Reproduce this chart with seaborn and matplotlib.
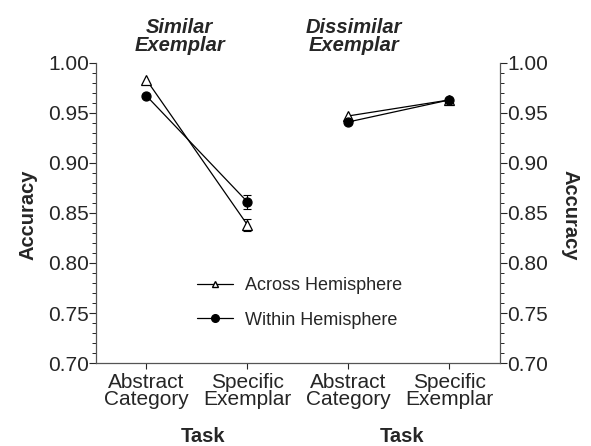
import matplotlib
matplotlib.use("Agg")
import matplotlib.pyplot as plt
import matplotlib.transforms as mtransforms
import seaborn as sns
import pandas as pd
from matplotlib.ticker import MultipleLocator, FormatStrFormatter
from matplotlib.lines import Line2D

# values
conditions = ["Similar Exemplar", "Dissimilar Exemplar"]
tasks = ["Abstract\nCategory", "Specific\nExemplar"]
across_acc = [0.983, 0.838, 0.947, 0.963]
within_acc = [0.967, 0.861, 0.941, 0.963]
across_se = [0.0, 0.006, 0.0, 0.0]
within_se = [0.0, 0.007, 0.0, 0.0]

rows = []
for i in range(4):
    cond = conditions[i // 2]
    rows.append(dict(pos=i, cond=cond, hemi="Across Hemisphere", acc=across_acc[i], se=across_se[i]))
    rows.append(dict(pos=i, cond=cond, hemi="Within Hemisphere", acc=within_acc[i], se=within_se[i]))
df = pd.DataFrame(rows)

sns.set_style("ticks")
plt.rcParams["font.family"] = ["Liberation Sans", "DejaVu Sans"]

fig = plt.figure(figsize=(5.91, 4.46), dpi=100)
ax = fig.add_axes([0.1624, 0.186, 0.6836, 0.673])

for cond in conditions:
    sub = df[df.cond == cond]
    eb = sub[sub.se > 0]
    ax.errorbar(eb.pos, eb.acc, yerr=eb.se, fmt="none", ecolor="black",
                elinewidth=0.8, capsize=3, capthick=0.8, zorder=1)
    sns.lineplot(data=sub, x="pos", y="acc", hue="hemi", style="hemi",
                 palette={"Across Hemisphere": "black", "Within Hemisphere": "black"},
                 markers={"Across Hemisphere": "^", "Within Hemisphere": "o"},
                 dashes=False, linewidth=0.9, markersize=6.5, legend=False, ax=ax,
                 markeredgecolor="black", markeredgewidth=0.9, zorder=2)

# open triangles
for line in ax.lines:
    if line.get_marker() == "^":
        line.set_markerfacecolor("white")

fs = 15
ax.set_xlim(-0.5, 3.5)
ax.set_ylim(0.70, 1.00)
ax.set_xticks(range(4))
ax.set_xticklabels(tasks * 2, fontsize=fs, linespacing=0.9)
ax.yaxis.set_major_locator(MultipleLocator(0.05))
ax.yaxis.set_minor_locator(MultipleLocator(0.01))
ax.yaxis.set_major_formatter(FormatStrFormatter("%.2f"))
ax.tick_params(axis="y", which="major", labelsize=fs, length=5, width=0.8, direction="out", pad=0)
ax.tick_params(axis="y", which="minor", length=3, width=0.7, direction="out")
ax.tick_params(axis="x", length=4, width=0.8, direction="out", pad=3)
ax.set_xlabel("")
ax.set_ylabel("")
fig.text(28 / 591, 1 - 215 / 446, "Accuracy", rotation=90, ha="center", va="center",
         fontsize=14.5, fontweight="bold")
for side in ["top", "right"]:
    ax.spines[side].set_visible(False)
for side in ["left", "bottom"]:
    ax.spines[side].set_linewidth(0.9)
    ax.spines[side].set_color("#555555")

ax2 = ax.twinx()
ax2.set_ylim(0.70, 1.00)
ax2.yaxis.set_major_locator(MultipleLocator(0.05))
ax2.yaxis.set_minor_locator(MultipleLocator(0.01))
ax2.yaxis.set_major_formatter(FormatStrFormatter("%.2f"))
ax2.tick_params(axis="y", which="major", labelsize=fs, length=5, width=0.8, direction="out", pad=0)
ax2.tick_params(axis="y", which="minor", length=3, width=0.7, direction="out")
fig.text(570 / 591, 1 - 215 / 446, "Accuracy", rotation=270, ha="center", va="center",
         fontsize=14.5, fontweight="bold")
for side in ["top", "left", "bottom"]:
    ax2.spines[side].set_visible(False)
ax2.spines["right"].set_linewidth(0.9)
ax2.spines["right"].set_color("#555555")

# condition titles and task labels
title_x = [0.33, 2.05]
task_x = [0.56, 2.53]
task_tr = mtransforms.blended_transform_factory(ax.transData, fig.transFigure)
for k, cond in enumerate(conditions):
    ax.text(title_x[k], 1.008, cond.replace(" ", "\n"), transform=ax.transData,
            ha="center", va="bottom", fontsize=14.5, fontweight="bold",
            fontstyle="italic", linespacing=0.9)
    ax.text(task_x[k], 1 - 437 / 446, "Task", transform=task_tr,
            ha="center", va="center", fontsize=14.5, fontweight="bold")

handles = [Line2D([], [], color="black", lw=0.9, marker="^", mfc="white", mec="black", ms=5),
           Line2D([], [], color="black", lw=0.9, marker="o", mfc="black", mec="black", ms=5.5)]
ax.legend(handles, ["Across Hemisphere", "Within Hemisphere"], frameon=False,
          fontsize=13, loc="center left", bbox_to_anchor=(0.25, 0.2), handlelength=2.0,
          labelspacing=0.95, handletextpad=0.65, borderaxespad=0, borderpad=0)

fig.savefig("out.png", dpi=100)
